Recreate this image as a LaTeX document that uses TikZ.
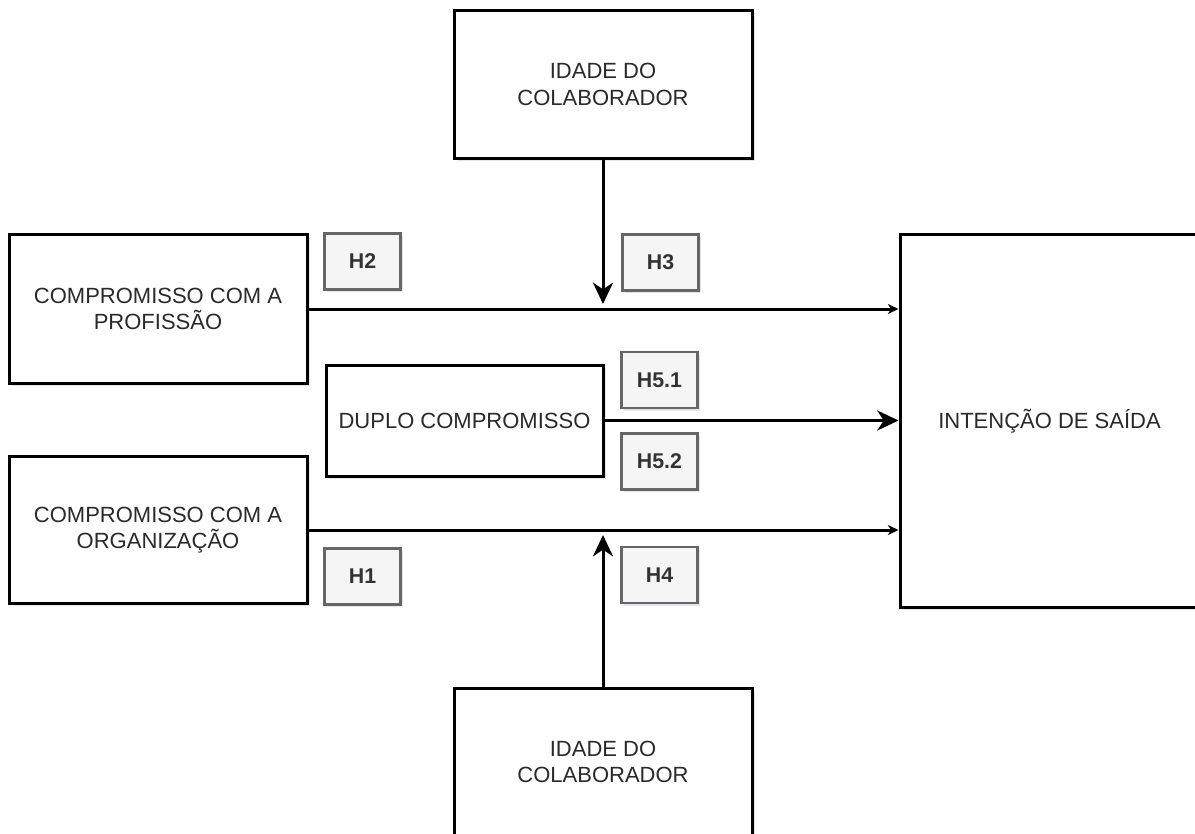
\documentclass[tikz,border=0pt]{standalone}
\usepackage{fontspec}
\setmainfont{Liberation Sans}
\usetikzlibrary{arrows.meta,shadows,calc}
\definecolor{txt}{HTML}{2A2A2A}
\definecolor{hfill}{HTML}{F5F5F5}
\definecolor{hstroke}{HTML}{666666}
\definecolor{htext}{HTML}{333333}
\tikzset{
  px/.style={x=0.75pt,y=-0.75pt},
  boxshadow/.style={drop shadow={shadow xshift=2.2pt,shadow yshift=-2.2pt,fill=black!60!blue!40,opacity=0.25}},
  mainbox/.style={draw=black,line width=2.25pt,fill=white,boxshadow,align=center,
    text=txt,font=\fontsize{16.5}{19.8}\selectfont,inner sep=0pt},
  hbox/.style={draw=hstroke,line width=2pt,fill=hfill,boxshadow,
    minimum width=57pt,minimum height=42pt,inner sep=0pt,
    text=htext,font=\fontsize{16}{19}\selectfont\bfseries},
  conn/.style={line width=2.25pt,draw=black},
  smalltip/.style={-{Stealth[length=8pt,width=7.5pt,inset=2.5pt]}},
  bigtip/.style={-{Stealth[length=16pt,width=15pt,inset=5pt]}},
}
\begin{document}
\begin{tikzpicture}[px]
\useasboundingbox (0,0) rectangle (1195,834);
\clip (0,0) rectangle (1195,834);

% variable boxes
\node[mainbox,minimum width=223.5pt,minimum height=111pt] (idadeTop) at (603,84.5) {IDADE DO\\ COLABORADOR};
\node[mainbox,minimum width=223.5pt,minimum height=111pt] (idadeBot) at (603,762) {IDADE DO\\ COLABORADOR};
\node[mainbox,minimum width=223.5pt,minimum height=111pt] (prof) at (158,309) {COMPROMISSO COM A\\ PROFISSÃO};
\node[mainbox,minimum width=223.5pt,minimum height=110pt] (org) at (158,530) {COMPROMISSO COM A\\ ORGANIZAÇÃO};
\node[mainbox,minimum width=207.75pt,minimum height=83.25pt] (duplo) at (464.5,420.5) {DUPLO COMPROMISSO};
\node[mainbox,minimum width=224.25pt,minimum height=279pt] (saida) at (1049.5,421) {INTENÇÃO DE SAÍDA};

% hypothesis labels
\node[hbox] (h2) at (362.5,261.5) {H2};
\node[hbox] (h3) at (660.5,262.5) {H3};
\node[hbox] (h51) at (659.5,380) {H5.1};
\node[hbox] (h52) at (659.5,461.5) {H5.2};
\node[hbox] (h1) at (362.5,576.5) {H1};
\node[hbox] (h4) at (659.5,575) {H4};

% moderation points on the direct paths
\coordinate (modTop) at (603,304);
\coordinate (modBot) at (603,535);

% connectors
\draw[conn,smalltip] (prof.east) -- (saida.west |- prof.east);
\draw[conn,smalltip] (org.east) -- (saida.west |- org.east);
\draw[conn,bigtip] (duplo.east) -- (saida.west |- duplo.east);
\draw[conn,bigtip] (idadeTop.south) -- (modTop);
\draw[conn,bigtip] (idadeBot.north) -- (modBot);
\end{tikzpicture}
\end{document}
